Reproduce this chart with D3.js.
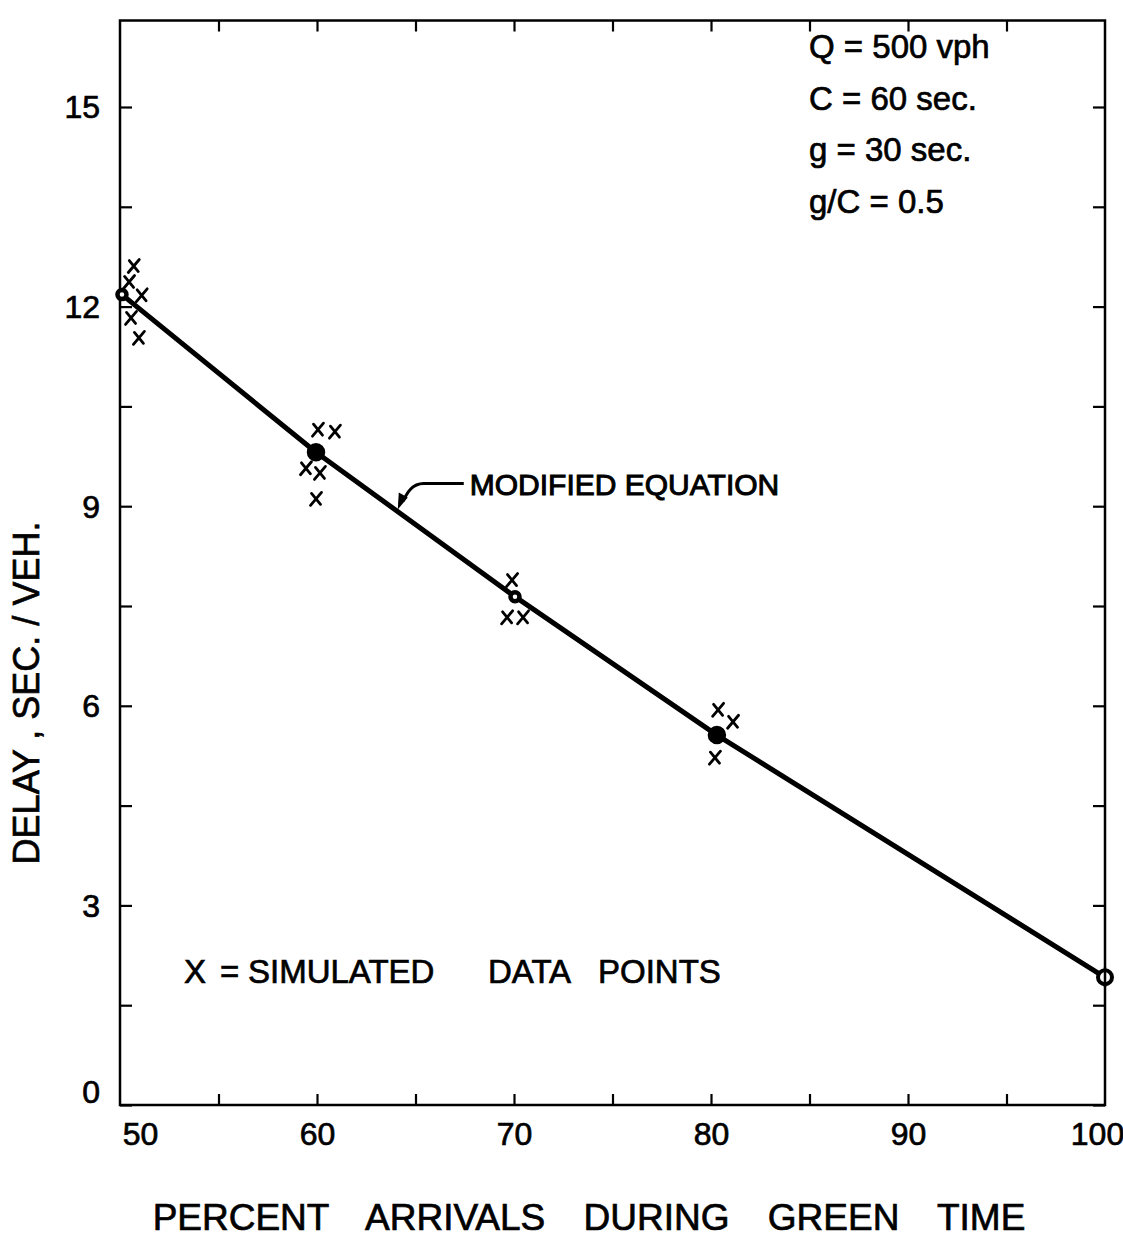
<!DOCTYPE html>
<html>
<head>
<meta charset="utf-8">
<script src="https://cdn.jsdelivr.net/npm/d3@7"></script>
<style>
  body { margin: 0; background: #fff; }
  text { font-family: "Liberation Sans", Arial, sans-serif; fill: #000; stroke: #000; stroke-width: 0.7px; }
</style>
</head>
<body>
<div id="chart"></div>
<script>
// modified equation curve (percent arrivals on green -> delay)
const curvePercent = [50.1, 59.95, 70.05, 80.3, 100];
const curveDelay = [12.18, 9.81, 7.64, 5.56, 1.92];

// simulated data points (x marks)
const simPercent = [50.7, 50.46, 51.1, 50.56, 50.96,
                    60.05, 60.91, 59.44, 60.15, 59.95,
                    69.9, 69.65, 70.46,
                    80.36, 81.12, 80.2];
const simDelay = [12.61, 12.37, 12.17, 11.83, 11.53,
                  10.15, 10.12, 9.57, 9.50, 9.11,
                  7.89, 7.33, 7.33,
                  5.94, 5.76, 5.22];

// tick labels
const xLabels = [50, 60, 70, 80, 90, 100];
const xMinorTicks = [55, 60, 65, 70, 75, 80, 85, 90, 95];
const yTicks = [0, 1.5, 3, 4.5, 6, 7.5, 9, 10.5, 12, 13.5, 15];
const yLabels = [0, 3, 6, 9, 12, 15];

const paramLines = ["Q = 500 vph", "C = 60 sec.", "g = 30 sec.", "g/C = 0.5"];
const noteWords = ["X", "=", "SIMULATED", "DATA", "POINTS"];

const W = 1123, H = 1239;

var x = d3.scaleLinear().domain([50, 100]).range([120, 1105]);
var y = d3.scaleLinear().domain([0, 15]).range([1105, 107]);
const yTop = 16.3;

const svg = d3.select("#chart").append("svg")
    .attr("width", W)
    .attr("height", H)
    .attr("viewBox", `0 0 ${W} ${H}`);

svg.append("rect").attr("width", W).attr("height", H).attr("fill", "#fff");

// frame
svg.append("rect")
    .attr("x", x(50))
    .attr("y", y(yTop))
    .attr("width", x(100) - x(50))
    .attr("height", y(0) - y(yTop))
    .attr("fill", "none")
    .attr("stroke", "#000")
    .attr("stroke-width", 2.5);

function styleAxis(g) {
    g.select(".domain").remove();
    g.selectAll(".tick line").attr("stroke", "#000").attr("stroke-width", 2.2);
}

// inward ticks, all four sides
svg.append("g")
    .attr("transform", "translate(" + x(50) + ",0)")
    .call(d3.axisLeft(y).tickValues(yTicks).tickSizeInner(-12).tickSizeOuter(0).tickPadding(20)
        .tickFormat(d => yLabels.includes(d) ? d : ""))
    .call(styleAxis)
    .call(g => g.selectAll("text")
        .style("font-size", "32px")
        .attr("dy", d => d === 0 ? "-0.08em" : "0.34em"));

svg.append("g")
    .attr("transform", "translate(" + x(100) + ",0)")
    .call(d3.axisRight(y).tickValues(yTicks).tickSizeInner(-12).tickSizeOuter(0).tickFormat(""))
    .call(styleAxis);

svg.append("g")
    .attr("transform", "translate(0," + y(0) + ")")
    .call(d3.axisBottom(x).tickValues(xMinorTicks).tickSizeInner(-11).tickSizeOuter(0).tickFormat(""))
    .call(styleAxis);

svg.append("g")
    .attr("transform", "translate(0," + y(yTop) + ")")
    .call(d3.axisTop(x).tickValues(xMinorTicks).tickSizeInner(-11).tickSizeOuter(0).tickFormat(""))
    .call(styleAxis);

// x labels
svg.append("g")
    .attr("transform", "translate(0," + y(0) + ")")
    .call(d3.axisBottom(x).tickValues(xLabels).tickSize(0).tickPadding(17))
    .call(styleAxis)
    .call(g => g.selectAll("text")
        .style("font-size", "32px")
        .attr("dx", d => d === 50 ? 20 : (d === 100 ? -8 : 0)));

// the curve
var line = d3.line()
    .x(function (d) { return x(d[0]); })
    .y(function (d) { return y(d[1]); });

svg.append("path")
    .datum(d3.zip(curvePercent, curveDelay))
    .attr("fill", "none")
    .attr("stroke", "#000")
    .attr("stroke-width", 5)
    .attr("stroke-linejoin", "round")
    .attr("d", line);

// points on curve: rings at 50, 70, 100 and solid dots at 60, 80
const ringIdx = { 0: 4.5, 2: 4.5, 4: 7 };
svg.selectAll(".cpt")
    .data(d3.zip(curvePercent, curveDelay))
    .enter().append("circle")
    .attr("class", "cpt")
    .attr("cx", d => x(d[0]))
    .attr("cy", d => y(d[1]))
    .attr("r", (d, i) => ringIdx[i] ? ringIdx[i] : 7)
    .attr("fill", (d, i) => ringIdx[i] ? "#fff" : "#000")
    .attr("stroke", "#000")
    .attr("stroke-width", (d, i) => i === 4 ? 4 : 4.5);

// vertical stroke through the last point
svg.append("line")
    .attr("x1", x(100)).attr("x2", x(100))
    .attr("y1", y(curveDelay[4]) - 10).attr("y2", y(curveDelay[4]) + 10)
    .attr("stroke", "#000").attr("stroke-width", 2.5);

// simulated data x marks
svg.selectAll(".sim")
    .data(d3.zip(simPercent, simDelay))
    .enter().append("path")
    .attr("class", "sim")
    .attr("d", function (d) {
        const cx = x(d[0]), cy = y(d[1]), a = 5.5, b = 6.5;
        return `M${cx - a},${cy + b}L${cx + a},${cy - b}M${cx - a + 1},${cy - b + 1}L${cx + a - 1},${cy + b - 1}`;
    })
    .attr("stroke", "#000")
    .attr("stroke-width", 2.8)
    .attr("stroke-linecap", "round");

// annotation: MODIFIED EQUATION with arrow
const tip = [64.1, 8.95];
const tx = x(tip[0]), ty = y(tip[1]);
svg.append("path")
    .attr("d", `M${tx + 66},${ty - 26} L${tx + 26},${ty - 26} C${tx + 14},${ty - 26} ${tx + 9},${ty - 16} ${tx + 5},${ty - 8}`)
    .attr("fill", "none")
    .attr("stroke", "#000")
    .attr("stroke-width", 3);
svg.append("path")
    .attr("d", `M${tx},${ty} L${tx + 1},${ty - 17} L${tx + 10},${ty - 12} Z`)
    .attr("fill", "#000");

svg.append("text")
    .attr("x", tx + 72)
    .attr("y", ty - 15)
    .style("font-size", "30px")
    .style("stroke-width", "1px")
    .text("MODIFIED EQUATION");

// parameter block
svg.selectAll(".param")
    .data(paramLines)
    .enter().append("text")
    .attr("class", "param")
    .attr("x", 809)
    .attr("y", (d, i) => 58 + i * 51.7)
    .style("font-size", "33px")
    .text(d => d);

// legend note
const notePos = [184, 220, 248, 488, 598];
svg.selectAll(".note")
    .data(noteWords)
    .enter().append("text")
    .attr("class", "note")
    .attr("x", (d, i) => notePos[i])
    .attr("y", 983)
    .style("font-size", "33px")
    .text(d => d);

// axis titles
svg.append("text")
    .attr("x", 589)
    .attr("y", 1230)
    .attr("text-anchor", "middle")
    .style("font-size", "37px")
    .style("word-spacing", "28px")
    .text("PERCENT ARRIVALS DURING GREEN TIME");

svg.append("text")
    .attr("transform", "translate(39,693) rotate(-90)")
    .attr("text-anchor", "middle")
    .style("font-size", "36px")
    .text("DELAY , SEC. / VEH.");
</script>
</body>
</html>
